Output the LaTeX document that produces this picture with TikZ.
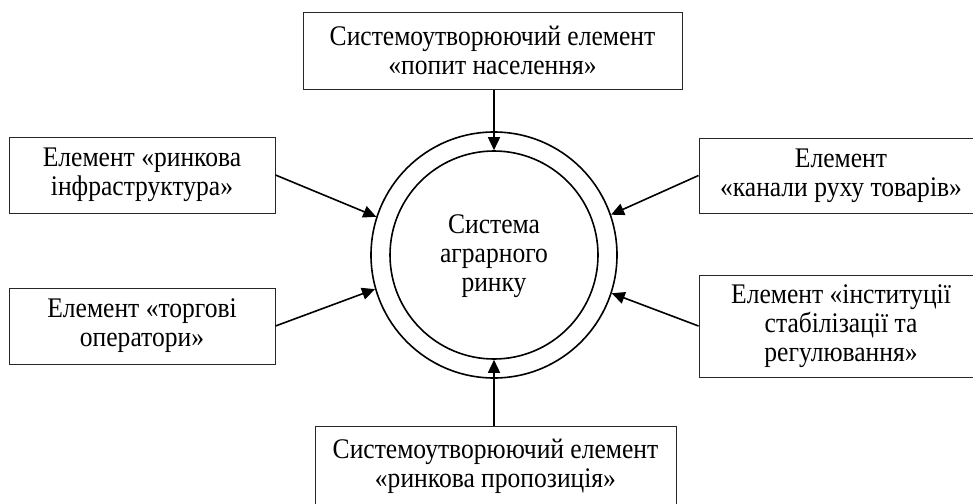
\documentclass[tikz,border=0pt]{standalone}
\usepackage{fontspec}
\setmainfont{Liberation Serif}[FakeStretch=0.9]
\usepackage{tikz}
\usetikzlibrary{shapes,arrows.meta}

\begin{document}
\begin{tikzpicture}
		[
		x = 0.5pt, y = -0.5pt,
		font = \fontsize{14.2}{14.6}\selectfont,
		elem/.style = {draw = black!85, line width = 0.5pt, rectangle, align = center, inner sep = 0pt},
		ring/.style = {draw, line width = 0.8pt, circle, inner sep = 0pt},
		feed/.style = {-{Triangle[length = 6.5pt, width = 6pt]}, line width = 0.8pt}
		]
		
		\clip (0,0) rectangle (973,503);
		
		\node [ring, minimum size = 123pt] (outer) at (494,255) {};
		\node [ring, minimum size = 104pt] (inner) at (494,255) {};
		\node [align = center] (sys) at (494,256) {Система\\аграрного\\ринку};
		
		\node [elem, minimum width = 189.5pt, minimum height = 38.5pt] (demand) at (492.5,50.5)
			{Системоутворюючий елемент\\«попит населення»};
		\node [elem, minimum width = 133pt, minimum height = 38pt] (infra) at (142,175)
			{Елемент «ринкова\\інфраструктура»};
		\node [elem, minimum width = 133pt, minimum height = 38pt] (traders) at (142,326)
			{Елемент «торгові\\оператори»};
		\node [elem, minimum width = 142pt, minimum height = 37.5pt] (channels) at (841,175.5)
			{Елемент\\«канали руху товарів»};
		\node [elem, minimum width = 142pt, minimum height = 51pt] (inst) at (841,326)
			{Елемент «інституції\\стабілізації та\\регулювання»};
		\node [elem, minimum width = 180.5pt, minimum height = 40pt] (supply) at (495.5,466)
			{Системоутворюючий елемент\\«ринкова пропозиція»};
		
		\draw [feed] (demand.south -| inner.north) -- (inner.north);
		\draw [feed] (supply.north -| inner.south) -- (inner.south);
		\draw [feed] (infra.east) -- (outer.162);
		\draw [feed] (traders.east) -- (outer.196);
		\draw [feed] (channels.west) -- (outer.19);
		\draw [feed] (inst.west) -- (outer.342);
		
\end{tikzpicture}
\end{document}
